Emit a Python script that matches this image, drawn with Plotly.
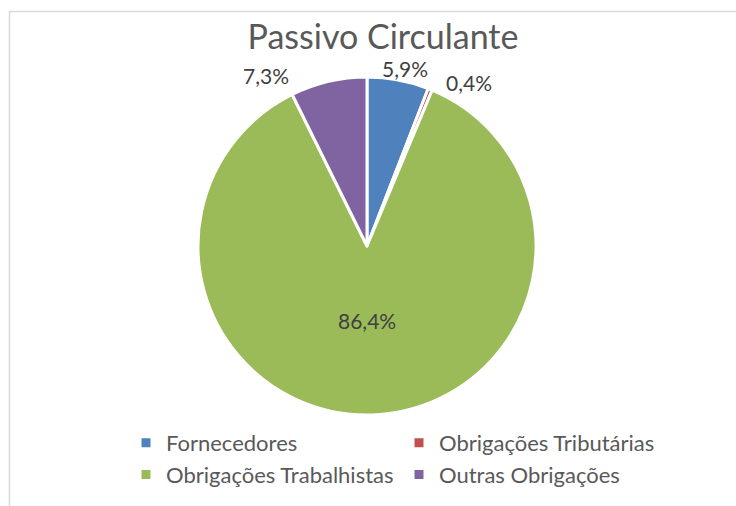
import math
import plotly.graph_objects as go

categories = ["Fornecedores", "Obrigações Tributárias", "Obrigações Trabalhistas", "Outras Obrigações"]
values = [5.9, 0.4, 86.4, 7.3]
label_text = ["5,9%", "0,4%", "86,4%", "7,3%"]
colors = ["#4F81BD", "#C0504D", "#9BBB59", "#8064A2"]

W, H = 736, 506
FONT = "Lato, 'Open Sans', sans-serif"

# pie geometry (pixels)
CX, CY, R = 367, 246, 169
# label placement: radial distance as a fraction of R, plus small pixel nudges (Excel-like collision avoidance)
label_radius = [1.08, 1.08, 0.45, 1.08]
label_nudge = [(4, 2), (34, 6), (-2, -2), (-60, 7)]

fig = go.Figure(go.Pie(
    labels=categories,
    values=values,
    text=label_text,
    textinfo="none",
    sort=False,
    direction="clockwise",
    rotation=0,
    marker=dict(colors=colors, line=dict(color="white", width=3)),
    domain=dict(x=[(CX - R) / W, (CX + R) / W], y=[1 - (CY + R) / H, 1 - (CY - R) / H]),
    hoverinfo="label+text",
))

# data labels positioned from the slice bisectors
total = sum(values)
annotations = []
cum = 0.0
for v, t, rf, (nx, ny) in zip(values, label_text, label_radius, label_nudge):
    mid = (cum + v / 2) / total * 2 * math.pi
    cum += v
    px = CX + math.sin(mid) * R * rf + nx
    py = CY - math.cos(mid) * R * rf + ny
    annotations.append(dict(text=t, x=px / W, y=1 - py / H, xref="paper", yref="paper",
                            xanchor="center", yanchor="middle", showarrow=False,
                            font=dict(family=FONT, size=21, color="#404040")))

fig.update_layout(
    width=W, height=H,
    margin=dict(l=0, r=0, t=0, b=0),
    paper_bgcolor="white",
    plot_bgcolor="white",
    font=dict(family=FONT, color="#595959"),
    title=dict(text="Passivo Circulante", x=383 / W, xanchor="center",
               y=1 - 37 / H, yanchor="middle", yref="paper",
               font=dict(family=FONT, size=34, color="#595959")),
    legend=dict(orientation="h", x=126 / W, xanchor="left", y=1 - 422 / H, yanchor="top",
                entrywidth=228, entrywidthmode="pixels",
                font=dict(family=FONT, size=22, color="#595959"),
                traceorder="normal"),
    annotations=annotations,
    shapes=[
        dict(type="line", xref="paper", yref="paper", x0=9 / W, x1=1, y0=1 - 11.5 / H, y1=1 - 11.5 / H,
             line=dict(color="#D9D9D9", width=1.5)),
        dict(type="line", xref="paper", yref="paper", x0=9.5 / W, x1=9.5 / W, y0=0, y1=1 - 11 / H,
             line=dict(color="#D9D9D9", width=1.5)),
    ],
)

fig.write_html("out.html", config={"displayModeBar": False},
               post_script="document.body.style.margin='0';")
